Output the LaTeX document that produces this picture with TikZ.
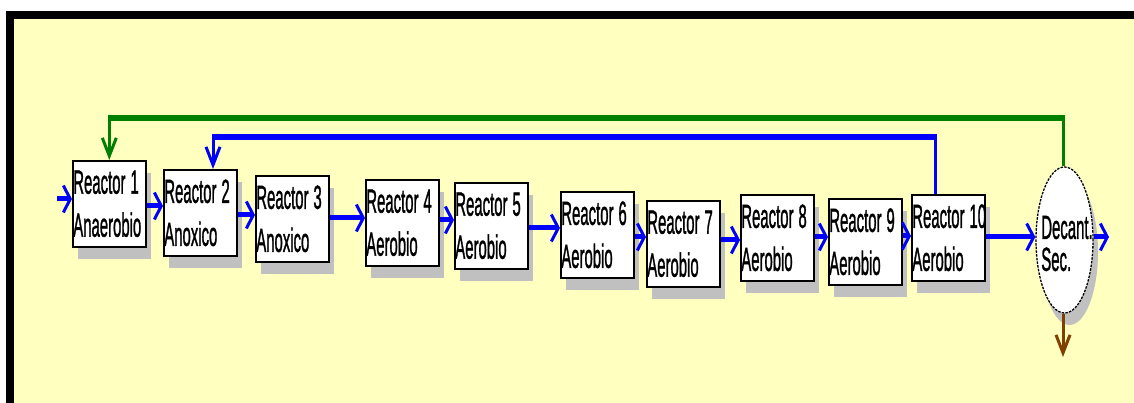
\documentclass[tikz,border=0pt]{standalone}
\usepackage{fontspec}
\usepackage{graphicx}
\newfontfamily\labelsans{Liberation Sans}[FakeBold=1.6]
\usetikzlibrary{arrows.meta,shadows,shapes.geometric}

\definecolor{paper}{RGB}{255,255,192}
\definecolor{shade}{RGB}{192,192,192}
\definecolor{flowblue}{RGB}{0,0,255}
\definecolor{recgreen}{RGB}{0,128,0}
\definecolor{sludgebrown}{RGB}{128,64,0}

% condensed label line
\newcommand\squeezed[1]{\scalebox{0.445}[1]{#1}}

\tikzset{
  FlowV/.tip={Straight Barb[length=7pt,width=27pt,line width=3pt]},
  DropV/.tip={Straight Barb[length=18pt,width=14pt,line width=3pt]},
  boxshadow/.style={drop shadow={shadow xshift=5pt,shadow yshift=-12pt,fill=shade,opacity=1}},
  reactor/.style={draw=black,line width=1.6pt,fill=white,rectangle,
    minimum width=73pt,minimum height=86pt,anchor=north west,
    inner xsep=0.5pt,inner ysep=0pt,text width=72pt,align=left,
    font=\labelsans\fontsize{33.5}{43}\selectfont,boxshadow},
  settler/.style={draw=black,line width=1.3pt,dash pattern=on 2.5pt off 1.2pt,
    fill=white,ellipse,minimum width=57pt,minimum height=146pt,inner sep=0pt,boxshadow},
  settlertext/.style={inner sep=0pt,align=left,
    font=\labelsans\fontsize{33.5}{32}\selectfont},
  flow/.style={draw=flowblue,line width=5pt,-{FlowV}},
  hline/.style={line width=5.5pt},
  vline/.style={line width=3pt},
}

\begin{document}
\begin{tikzpicture}[x=1pt,y=-1pt]
  % page, frame and background
  \useasboundingbox (0,0) rectangle (1134,403);
  \fill[white] (0,0) rectangle (1134,403);
  \fill[black] (6,11) rectangle (1134,19);
  \fill[black] (6,11) rectangle (14,403);
  \fill[paper] (14,19) rectangle (1134,403);

  % reactors in series
  \node[reactor] (r1)  at (72,160)  {\squeezed{Reactor\ 1}\\\squeezed{Anaerobio}};
  \node[reactor] (r2)  at (163,169) {\squeezed{Reactor\ 2}\\\squeezed{Anoxico}};
  \node[reactor] (r3)  at (255,175) {\squeezed{Reactor\ 3}\\\squeezed{Anoxico}};
  \node[reactor] (r4)  at (365,179) {\squeezed{Reactor\ 4}\\\squeezed{Aerobio}};
  \node[reactor] (r5)  at (454,182) {\squeezed{Reactor\ 5}\\\squeezed{Aerobio}};
  \node[reactor] (r6)  at (560,191) {\squeezed{Reactor\ 6}\\\squeezed{Aerobio}};
  \node[reactor] (r7)  at (646,200) {\squeezed{Reactor\ 7}\\\squeezed{Aerobio}};
  \node[reactor] (r8)  at (740,194) {\squeezed{Reactor\ 8}\\\squeezed{Aerobio}};
  \node[reactor] (r9)  at (828,198) {\squeezed{Reactor\ 9}\\\squeezed{Aerobio}};
  \node[reactor] (r10) at (911,194) {\squeezed{Reactor\ 10}\\\squeezed{Aerobio}};

  % secondary settler
  \node[settler] (dec) at (1064.5,240) {};
  \node[settlertext] (dectext) at (1067,243.5) {\squeezed{Decant.}\\\squeezed{Sec.}};

  % free ends
  \coordinate (influent) at (57,199);
  \coordinate (effluent) at (1109,237);
  \coordinate (waste) at (1063,357);

  % main flow line
  \draw[flow] (influent) -- (r1.west |- influent);
  \draw[flow] (r1.east |- 0,206) -- (r2.west |- 0,206);
  \draw[flow] (r2.east |- 0,215) -- (r3.west |- 0,215);
  \draw[flow] (r3.east |- 0,218) -- (r4.west |- 0,218);
  \draw[flow] (r4.east |- 0,220) -- (r5.west |- 0,220);
  \draw[flow] (r5.east |- 0,228) -- (r6.west |- 0,228);
  \draw[flow] (r6.east |- 0,237) -- (r7.west |- 0,237);
  \draw[flow] (r7.east |- 0,240) -- (r8.west |- 0,240);
  \draw[flow] (r8.east |- 0,237) -- (r9.west |- 0,237);
  \draw[flow] (r9.east |- 0,236) -- (r10.west |- 0,236);
  \draw[flow] (r10.east |- 0,237) -- (dec.west |- 0,237);
  \draw[flow] (dec.east |- effluent) -- (effluent);

  % sludge return from settler to reactor 1
  \coordinate (gR) at (1063,118);
  \coordinate (gL) at (r1.north |- gR);
  \draw[recgreen,vline] (dec.north -| gR) -- ([yshift=2.75pt]gR);
  \draw[recgreen,hline] ([xshift=1.5pt]gR) -- ([xshift=-1.5pt]gL);
  \draw[recgreen,vline,-{DropV}] ([yshift=2.75pt]gL) -- (r1.north);

  % internal recycle from reactor 10 to reactor 2
  \coordinate (bR) at (935,137);
  \coordinate (bL) at (213,137);
  \draw[flowblue,vline] (r10.north -| bR) -- ([yshift=2.75pt]bR);
  \draw[flowblue,hline] ([xshift=1.5pt]bR) -- ([xshift=-1.5pt]bL);
  \draw[flowblue,vline,-{DropV}] ([yshift=2.75pt]bL) -- (r2.north -| bL);

  % waste sludge
  \draw[sludgebrown,vline,-{DropV}] (dec.south -| waste) -- (waste);
\end{tikzpicture}
\end{document}
